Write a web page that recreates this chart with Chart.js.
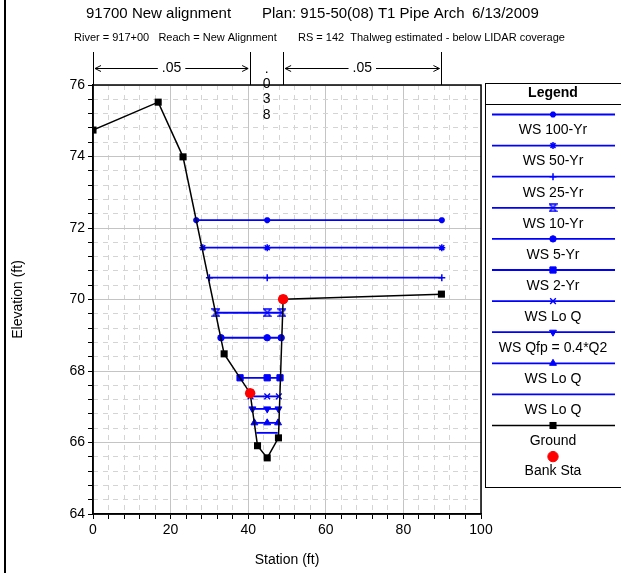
<!DOCTYPE html>
<html>
<head>
<meta charset="utf-8">
<script src="https://cdn.jsdelivr.net/npm/chart.js@4.4.0/dist/chart.umd.min.js"></script>
<style>
  html, body { margin: 0; padding: 0; background: #fff; }
  canvas { display: block; }
</style>
</head>
<body>
<canvas id="xs-chart" width="621" height="573"></canvas>
<script>
// cross section data
const groundSta  = [0, 16.8, 23.2, 33.8, 40.5, 42.4, 44.9, 47.8, 49.0, 89.8];
const groundElev = [74.74, 75.52, 73.99, 68.48, 67.38, 65.91, 65.57, 66.13, 70.01, 70.15];

const bankSta  = [40.5, 49.0];
const bankElev = [67.38, 70.01];

const wsLabels   = ['WS 100-Yr', 'WS 50-Yr', 'WS 25-Yr', 'WS 10-Yr', 'WS 5-Yr', 'WS 2-Yr',
                    'WS Lo Q', 'WS Qfp = 0.4*Q2', 'WS Lo Q', 'WS Lo Q'];
const wsElev     = [72.22, 71.45, 70.61, 69.63, 68.93, 67.81, 67.29, 66.94, 66.55, 66.27];
const wsLeftSta  = [26.6, 28.3, 30.0, 31.7, 33.0, 37.9, 40.6, 41.1, 41.6, 42.1];
const wsMidSta   = [44.9, 44.9, 44.9, 44.9, 44.9, 44.9, 44.9, 44.9, 44.9, null];
const wsRightSta = [89.9, 89.9, 89.9, 48.7, 48.5, 48.2, 47.9, 47.8, 47.7, 47.6];

// manning's n shown above the section
const nLeft = '.05';
const nChannel = '.038';
const nRight = '.05';

const xTicksMajor = 20;
const yTicksMajor = 2;

const FONT = "'Liberation Sans', Arial, sans-serif";
const BLUE = '#0000ff';

function hourglass(color) {
    const c = document.createElement('canvas');
    c.width = 9;
    c.height = 9;
    const g = c.getContext('2d');
    g.strokeStyle = color;
    g.lineWidth = 1.3;
    g.beginPath();
    g.moveTo(1, 1); g.lineTo(8, 1); g.lineTo(1, 8); g.lineTo(8, 8); g.closePath();
    g.stroke();
    return c;
}

// marker look for each water surface line
const wsMarkers = [
    { pointStyle: 'star', radius: 3, borderWidth: 2.2, rotation: 0 },
    { pointStyle: 'star', radius: 3.5, borderWidth: 1.5, rotation: 0 },
    { pointStyle: 'cross', radius: 3.5, borderWidth: 1.5, rotation: 0 },
    { pointStyle: hourglass(BLUE), radius: 4, borderWidth: 1, rotation: 0 },
    { pointStyle: 'circle', radius: 3.2, borderWidth: 1, rotation: 0 },
    { pointStyle: 'rect', radius: 4.4, borderWidth: 1, rotation: 0 },
    { pointStyle: 'crossRot', radius: 4, borderWidth: 1.4, rotation: 0 },
    { pointStyle: 'triangle', radius: 4, borderWidth: 1, rotation: 180 },
    { pointStyle: 'triangle', radius: 4, borderWidth: 1, rotation: 0 },
    { pointStyle: 'circle', radius: 0, borderWidth: 0, rotation: 0 }
];

const datasets = [];

datasets.push({
    label: 'Bank Sta',
    data: bankSta.map((x, i) => ({ x: x, y: bankElev[i] })),
    showLine: false,
    pointStyle: 'circle',
    pointRadius: 5.2,
    backgroundColor: '#ff0000',
    borderColor: '#ff0000',
    borderWidth: 0,
    order: 0
});

datasets.push({
    label: 'Ground',
    data: groundSta.map((x, i) => ({ x: x, y: groundElev[i] })),
    showLine: true,
    borderColor: '#000',
    backgroundColor: '#000',
    borderWidth: 1.5,
    pointStyle: 'rect',
    pointRadius: 5,
    pointBorderWidth: 0,
    order: 1
});

wsLabels.forEach((label, i) => {
    const pts = [{ x: wsLeftSta[i], y: wsElev[i] }];
    if (wsMidSta[i] !== null) pts.push({ x: wsMidSta[i], y: wsElev[i] });
    pts.push({ x: wsRightSta[i], y: wsElev[i] });
    const m = wsMarkers[i];
    datasets.push({
        label: label,
        data: pts,
        showLine: true,
        borderColor: BLUE,
        backgroundColor: BLUE,
        borderWidth: 1.8,
        pointStyle: m.pointStyle,
        pointRadius: m.radius,
        pointBorderWidth: m.borderWidth,
        pointRotation: m.rotation,
        order: 2 + i
    });
});

function isMultiple(v, step) {
    return Math.abs(v / step - Math.round(v / step)) < 1e-6;
}

function drawMarker(ctx, ds, x, y) {
    const opts = {
        pointStyle: ds.pointStyle,
        radius: ds.pointRadius,
        rotation: ds.pointRotation || 0,
        borderWidth: ds.pointBorderWidth !== undefined ? ds.pointBorderWidth : 1
    };
    if (!opts.radius) return;
    ctx.save();
    ctx.fillStyle = ds.backgroundColor;
    ctx.strokeStyle = ds.borderColor;
    ctx.lineWidth = opts.borderWidth;
    if (Chart.helpers && Chart.helpers.drawPoint) {
        Chart.helpers.drawPoint(ctx, opts, x, y);
    } else {
        ctx.beginPath();
        ctx.arc(x, y, opts.radius, 0, Math.PI * 2);
        ctx.fill();
    }
    ctx.restore();
}

const decorPlugin = {
    id: 'decor',
    afterDraw(chart) {
        const ctx = chart.ctx;
        const area = chart.chartArea;
        const xs = chart.scales.x;

        ctx.save();

        // frame of plot area
        ctx.strokeStyle = '#000';
        ctx.lineWidth = 1.5;
        ctx.strokeRect(area.left, area.top, area.right - area.left, area.bottom - area.top);

        // left page edge
        ctx.fillStyle = '#000';
        ctx.fillRect(4, 0, 2, chart.height);

        // titles
        ctx.fillStyle = '#000';
        ctx.textBaseline = 'middle';
        ctx.textAlign = 'left';
        ctx.font = '15px ' + FONT;
        ctx.fillText('91700 New alignment', 86, 14);
        ctx.fillText('Plan: 915-50(08) T1 Pipe Arch', 262, 14);
        ctx.fillText('6/13/2009', 472, 14);
        ctx.font = '11px ' + FONT;
        ctx.fillText('River = 917+00   Reach = New Alignment', 74, 38);
        ctx.fillText('RS = 142  Thalweg estimated - below LIDAR coverage', 298, 38);

        // roughness markers above the section
        const marks = [0, bankSta[0], bankSta[1], groundSta[groundSta.length - 1]].map(v => xs.getPixelForValue(v));
        ctx.strokeStyle = '#000';
        ctx.lineWidth = 1;
        marks.forEach(px => {
            const p = Math.round(px) + 0.5;
            ctx.beginPath();
            ctx.moveTo(p, 52);
            ctx.lineTo(p, area.top);
            ctx.stroke();
        });

        const arrowY = 68.5;
        ctx.font = '14px ' + FONT;
        ctx.textAlign = 'center';
        [[marks[0], marks[1], nLeft], [marks[2], marks[3], nRight]].forEach(([a, b, txt]) => {
            const mid = (a + b) / 2;
            const half = ctx.measureText(txt).width / 2 + 4;
            ctx.beginPath();
            ctx.moveTo(a + 2, arrowY); ctx.lineTo(mid - half, arrowY);
            ctx.moveTo(mid + half, arrowY); ctx.lineTo(b - 2, arrowY);
            ctx.moveTo(a + 8, arrowY - 3); ctx.lineTo(a + 2, arrowY); ctx.lineTo(a + 8, arrowY + 3);
            ctx.moveTo(b - 8, arrowY - 3); ctx.lineTo(b - 2, arrowY); ctx.lineTo(b - 8, arrowY + 3);
            ctx.stroke();
            ctx.fillText(txt, mid, arrowY);
        });
        const cx = (marks[1] + marks[2]) / 2;
        nChannel.split('').forEach((ch, i) => {
            ctx.fillText(ch, cx, 69 + i * 15.3);
        });

        // legend box
        const lgLeft = 485, lgTop = 83, lgBottom = 487;
        const lgCx = 553;
        ctx.strokeStyle = '#000';
        ctx.lineWidth = 1;
        ctx.strokeRect(lgLeft + 0.5, lgTop + 0.5, chart.width - lgLeft + 5, lgBottom - lgTop);
        ctx.beginPath();
        ctx.moveTo(lgLeft, 104.5);
        ctx.lineTo(chart.width, 104.5);
        ctx.stroke();
        ctx.font = 'bold 14px ' + FONT;
        ctx.fillText('Legend', lgCx, 93);

        const ds = chart.data.datasets;
        const entries = ds.filter(d => d.label !== 'Bank Sta' && d.label !== 'Ground')
            .concat(ds.filter(d => d.label === 'Ground'));
        ctx.font = '14px ' + FONT;
        entries.forEach((d, i) => {
            const y = 114.5 + i * 31.1;
            ctx.strokeStyle = d.borderColor;
            ctx.lineWidth = d.borderWidth;
            ctx.beginPath();
            ctx.moveTo(492, y);
            ctx.lineTo(615, y);
            ctx.stroke();
            drawMarker(ctx, d, lgCx, y);
            ctx.fillStyle = '#000';
            ctx.fillText(d.label, lgCx, y + 16);
        });
        const bank = ds.find(d => d.label === 'Bank Sta');
        const by = 114.5 + entries.length * 31.1;
        drawMarker(ctx, bank, lgCx, by);
        ctx.fillStyle = '#000';
        ctx.fillText(bank.label, lgCx, by + 15);

        ctx.restore();
    }
};

const majorGrid = '#c4c4c4';
const minorGrid = '#d4d4d4';
const none = 'rgba(0,0,0,0)';

new Chart(document.getElementById('xs-chart'), {
    type: 'scatter',
    data: { datasets: datasets },
    options: {
        responsive: false,
        animation: false,
        devicePixelRatio: 1,
        layout: { padding: { left: 0, right: 140, top: 85, bottom: 0 } },
        plugins: {
            legend: { display: false },
            tooltip: { enabled: false }
        },
        elements: { line: { tension: 0 } },
        scales: {
            x: {
                type: 'linear',
                position: 'bottom',
                min: 0,
                max: 100,
                ticks: {
                    stepSize: 4,
                    autoSkip: false,
                    maxRotation: 0,
                    padding: 3,
                    color: '#000',
                    font: { size: 14, family: FONT },
                    callback: v => isMultiple(v, xTicksMajor) ? v : ''
                },
                grid: {
                    color: c => isMultiple(c.tick.value, xTicksMajor) ? majorGrid : none,
                    tickColor: '#000',
                    tickLength: 5
                },
                border: { color: '#000', width: 1.5 },
                title: {
                    display: true,
                    text: 'Station (ft)',
                    color: '#000',
                    font: { size: 14, family: FONT },
                    padding: { top: 0, bottom: 4 }
                },
                afterFit: s => { s.height = 59; }
            },
            xMinor: {
                type: 'linear',
                position: 'bottom',
                min: 0,
                max: 100,
                ticks: { display: false, stepSize: 4, autoSkip: false },
                grid: {
                    color: c => isMultiple(c.tick.value, xTicksMajor) ? none : minorGrid,
                    borderDash: [5, 5],
                    drawTicks: false
                },
                border: { display: false, dash: [5, 5] },
                afterFit: s => { s.height = 0; }
            },
            y: {
                type: 'linear',
                position: 'left',
                min: 64,
                max: 76,
                ticks: {
                    stepSize: 0.4,
                    autoSkip: false,
                    padding: 3,
                    color: '#000',
                    font: { size: 14, family: FONT },
                    callback: v => isMultiple(v, yTicksMajor) ? Math.round(v) : ''
                },
                grid: {
                    color: c => isMultiple(c.tick.value, yTicksMajor) ? majorGrid : none,
                    tickColor: '#000',
                    tickLength: 5
                },
                border: { color: '#000', width: 1.5 },
                title: {
                    display: true,
                    text: 'Elevation (ft)',
                    color: '#000',
                    font: { size: 14, family: FONT },
                    padding: { top: 10, bottom: 0 }
                },
                afterFit: s => { s.width = 93; }
            },
            yMinor: {
                type: 'linear',
                position: 'left',
                min: 64,
                max: 76,
                ticks: { display: false, stepSize: 0.4, autoSkip: false },
                grid: {
                    color: c => isMultiple(c.tick.value, yTicksMajor) ? none : minorGrid,
                    borderDash: [5, 5],
                    drawTicks: false
                },
                border: { display: false, dash: [5, 5] },
                afterFit: s => { s.width = 0; }
            }
        }
    },
    plugins: [decorPlugin]
});
</script>
</body>
</html>
